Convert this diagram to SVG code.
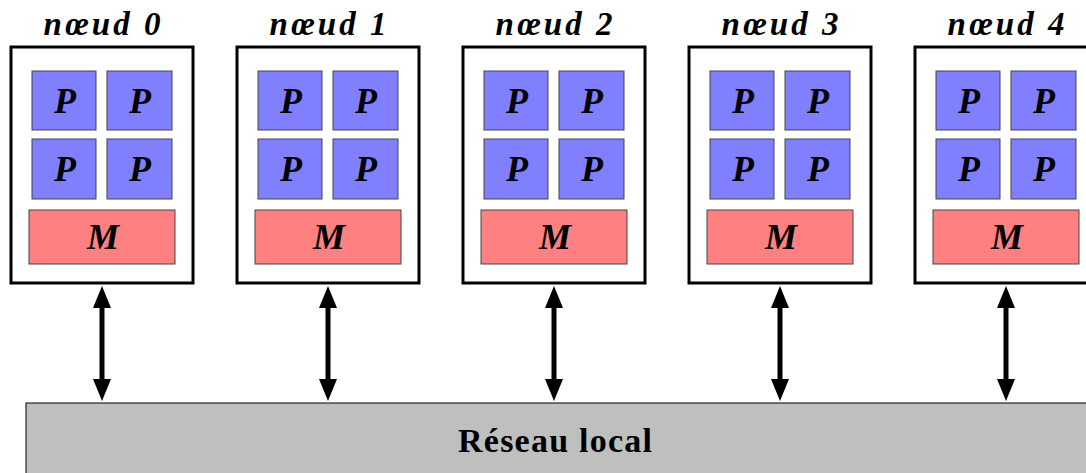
<svg xmlns="http://www.w3.org/2000/svg" width="1086" height="473" viewBox="0 0 1086 473">
<style>
.frame{fill:#fff;stroke:#000;stroke-width:3}
.p{fill:#8080ff;stroke:#444;stroke-width:1}
.m{fill:#ff8080;stroke:#444;stroke-width:1}
.lbl{font-family:"Liberation Serif",serif;font-weight:bold;font-style:italic;font-size:33px;text-anchor:middle;fill:#000}
.pl{font-family:"Liberation Serif",serif;font-weight:bold;font-style:italic;font-size:36px;text-anchor:middle;fill:#000}
.net{fill:#bfbfbf;stroke:#000;stroke-width:1}
.nett{font-family:"Liberation Serif",serif;font-weight:bold;font-size:34px;text-anchor:middle;fill:#000}
.arr{stroke:#000;stroke-width:5;fill:none;marker-start:url(#head);marker-end:url(#head)}
</style>
<defs>
<marker id="head" markerUnits="userSpaceOnUse" markerWidth="22" markerHeight="18" viewBox="0 0 22 18" refX="1" refY="9" orient="auto-start-reverse">
<path d="M0,0 L22,9 L0,18 z" fill="#000"/>
</marker>
<g id="nodeShape">
<rect class="frame" x="11" y="47" width="182" height="236"/>
<rect class="p" x="32" y="71" width="64" height="59"/>
<rect class="p" x="107" y="71" width="65" height="59"/>
<rect class="p" x="32" y="139" width="64" height="60"/>
<rect class="p" x="107" y="139" width="65" height="60"/>
<rect class="m" x="29" y="210" width="146" height="54"/>
<text class="pl" x="65" y="113">P</text>
<text class="pl" x="140" y="113">P</text>
<text class="pl" x="65" y="181">P</text>
<text class="pl" x="140" y="181">P</text>
<text class="pl" x="103" y="249">M</text>
</g>
</defs>
<g id="network">
<rect class="net" x="26" y="403" width="1070" height="80"/>
<text class="nett" x="555" y="452" textLength="194">Réseau local</text>
</g>
<g id="node0"><use href="#nodeShape"/><text class="lbl" x="102" y="35" textLength="117">nœud 0</text></g>
<g id="node1" transform="translate(226,0)"><use href="#nodeShape"/><text class="lbl" x="102" y="35" textLength="117">nœud 1</text></g>
<g id="node2" transform="translate(452,0)"><use href="#nodeShape"/><text class="lbl" x="102" y="35" textLength="117">nœud 2</text></g>
<g id="node3" transform="translate(678,0)"><use href="#nodeShape"/><text class="lbl" x="102" y="35" textLength="117">nœud 3</text></g>
<g id="node4" transform="translate(904,0)"><use href="#nodeShape"/><text class="lbl" x="102" y="35" textLength="117">nœud 4</text></g>
<g id="connectors">
<line class="arr" x1="102" y1="307" x2="102" y2="380"/>
<line class="arr" x1="328" y1="307" x2="328" y2="380"/>
<line class="arr" x1="554" y1="307" x2="554" y2="380"/>
<line class="arr" x1="780" y1="307" x2="780" y2="380"/>
<line class="arr" x1="1006" y1="307" x2="1006" y2="380"/>
</g>
</svg>
